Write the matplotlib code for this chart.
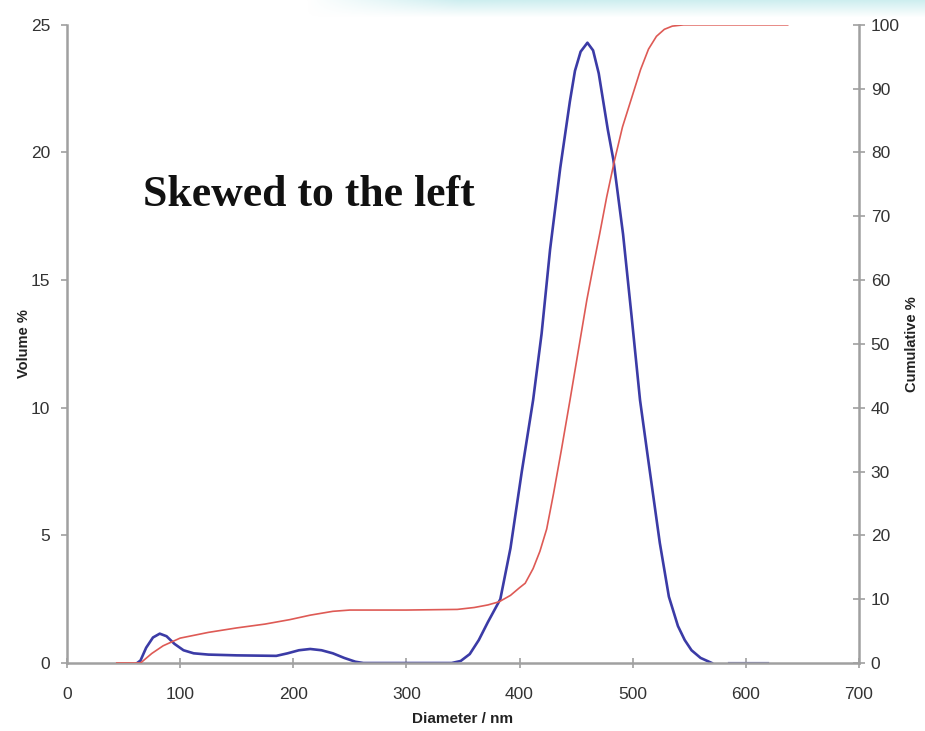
import numpy as np
import matplotlib.pyplot as plt

# volume distribution (blue)
vol_x = [62, 65, 70, 76, 82, 88, 95, 103, 112, 125, 150, 185, 195, 205, 215, 225,
         235, 245, 255, 262, 340, 348, 356, 364, 372, 383, 392, 402, 412, 419.5, 427,
         436, 444.5, 449, 454, 460, 465, 470, 474, 478, 483, 491.5, 499, 506.5, 513,
         524, 532, 540, 546, 552, 560, 570]
vol_y = [0, 0.1, 0.6, 1.0, 1.15, 1.05, 0.75, 0.5, 0.38, 0.33, 0.3, 0.28, 0.38, 0.5,
         0.55, 0.5, 0.38, 0.2, 0.05, 0, 0, 0.08, 0.35, 0.9, 1.6, 2.5, 4.5, 7.5, 10.3,
         12.9, 16.2, 19.4, 22.0, 23.2, 23.95, 24.3, 24.0, 23.1, 22.0, 20.9, 19.7, 16.8,
         13.6, 10.3, 8.2, 4.7, 2.6, 1.45, 0.9, 0.5, 0.2, 0]
tail_x = [585, 620]
tail_y = [0, 0]

# cumulative curve (red)
cum_x = [44, 65, 75, 85, 100, 125, 150, 175, 197, 215, 235, 250, 300, 345, 360, 372,
         382, 392, 400, 405, 412, 418, 424, 430, 437, 444.6, 452, 459.5, 465, 471, 477,
         484, 491, 499, 507, 514, 521, 528, 535, 545, 637]
cum_y = [0, 0, 1.5, 2.7, 3.9, 4.8, 5.5, 6.1, 6.8, 7.5, 8.1, 8.3, 8.3, 8.4, 8.7, 9.1,
         9.6, 10.6, 11.8, 12.5, 14.8, 17.5, 21, 26.5, 33.4, 41.2, 49, 56.9, 62, 67.4,
         73, 78.8, 84, 88.5, 93, 96.2, 98.2, 99.3, 99.8, 100, 100]

xticks = [0, 100, 200, 300, 400, 500, 600, 700]
vticks = [0, 5, 10, 15, 20, 25]
cticks = [0, 10, 20, 30, 40, 50, 60, 70, 80, 90, 100]

plt.rcParams['font.family'] = ['Liberation Sans', 'DejaVu Sans']
fig = plt.figure(figsize=(9.25, 7.31), dpi=100)

# faint cyan band at the top (slide background)
band = fig.add_axes([0.33, 0.975, 0.67, 0.025])
h, w = 20, 200
fade = np.linspace(1, 0, h)[:, None] * np.clip(np.linspace(0, 4, w), 0, 1)[None, :]
rgba = np.zeros((h, w, 4))
rgba[..., 0] = 0.80
rgba[..., 1] = 0.93
rgba[..., 2] = 0.94
rgba[..., 3] = fade
band.imshow(rgba, aspect='auto')
band.axis('off')

ax = fig.add_axes([0.0724, 0.093, 0.8562, 0.873])
ax2 = ax.twinx()

ax.plot(vol_x, vol_y, color='#3b3ba6', lw=1.9, solid_joinstyle='round')
ax.plot(tail_x, tail_y, color='#6a6ab8', lw=1.6)
ax2.plot(cum_x, cum_y, color='#de5a55', lw=1.2)

ax.set_xlim(0, 700)
ax.set_ylim(0, 25)
ax2.set_ylim(0, 100)
ax.set_xticks(xticks)
ax.set_yticks(vticks)
ax2.set_yticks(cticks)

gray = '#a0a0a0'
for a in (ax, ax2):
    a.spines['top'].set_visible(False)
    for s in ('left', 'right', 'bottom'):
        a.spines[s].set_color(gray)
        a.spines[s].set_linewidth(1.8)
ax.spines['right'].set_visible(False)
ax2.spines['left'].set_visible(False)
ax2.spines['bottom'].set_visible(False)

ax.tick_params(axis='x', direction='inout', length=7, width=1.2, color=gray,
               pad=14, labelsize=12.5, labelcolor='#333333')
ax.tick_params(axis='y', direction='out', length=4, width=1.2, color=gray,
               pad=8, labelsize=12.5, labelcolor='#333333')
ax2.tick_params(axis='y', direction='inout', length=9, width=1.2, color=gray,
                pad=4, labelsize=12.5, labelcolor='#333333')

ax.set_xlabel('Diameter / nm', fontsize=11, fontweight='bold', color='#222222', labelpad=7)
ax.set_ylabel('Volume %', fontsize=10.5, fontweight='bold', color='#222222', labelpad=0)
ax2.set_ylabel('Cumulative %', fontsize=10.5, fontweight='bold', color='#222222', labelpad=4)

ax.text(67, 17.9, 'Skewed to the left', fontsize=31.5, fontweight='bold',
        family=['Liberation Serif', 'DejaVu Serif'], color='#111111')

fig.savefig('out.png', dpi=100)
